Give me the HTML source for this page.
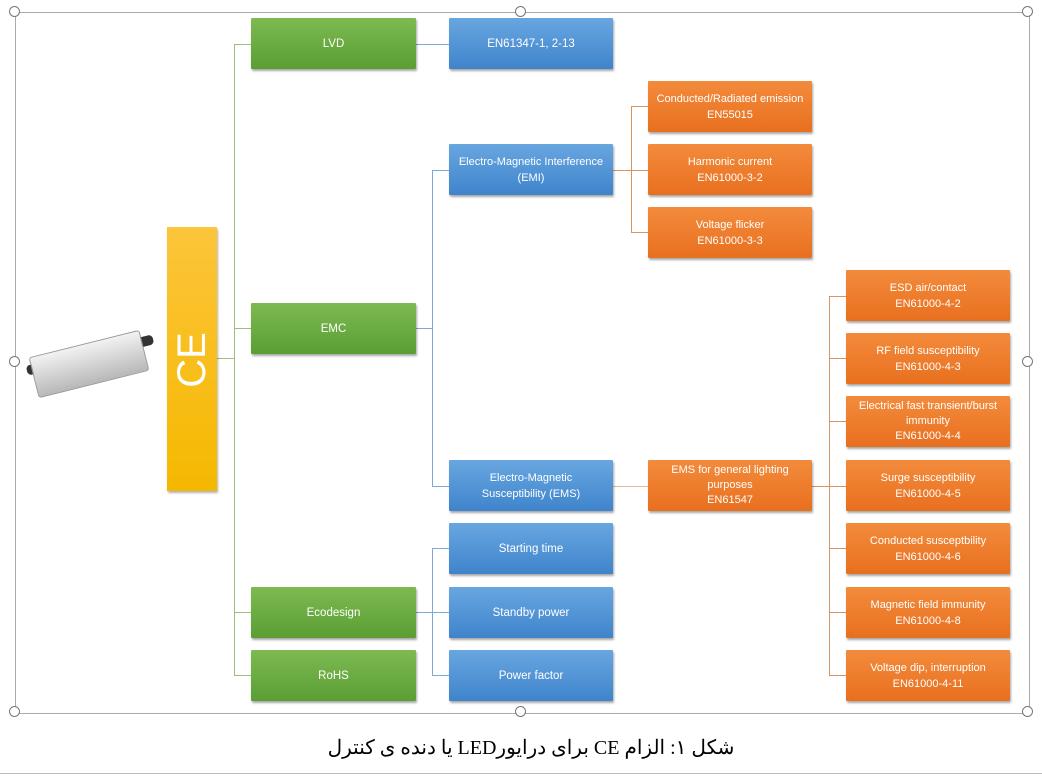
<!DOCTYPE html><html><head><meta charset="utf-8"><style>
body{margin:0;width:1042px;height:777px;background:#fff;position:relative;overflow:hidden;font-family:"Liberation Sans",sans-serif}
.b{position:absolute;color:#fff;font-size:11.5px;text-align:center;display:flex;flex-direction:column;justify-content:center;align-items:center;box-shadow:1px 2px 2px rgba(0,0,0,.35);line-height:16px;border-radius:1px}
.g{background:linear-gradient(#7dba52,#5a9e34);left:251px;width:165px;height:51px}
.u{background:linear-gradient(#68a6e0,#3f84cc);left:449px;width:164px;height:51px}
.o{background:linear-gradient(#f38b3c,#e8701f);width:164px;height:51px}
.l{position:absolute}
.h{position:absolute;width:9px;height:9px;border:1.5px solid #777;border-radius:50%;background:#fff}
</style></head><body>
<div class="l" style="left:15px;top:12px;width:1013px;height:700px;border:1px solid #aaa"></div>
<div class="l" style="left:234px;top:44px;width:1px;height:631px;background:#9bbf80"></div>
<div class="l" style="left:217px;top:358px;width:17px;height:1px;background:#9bbf80"></div>
<div class="l" style="left:234px;top:44px;width:17px;height:1px;background:#9bbf80"></div>
<div class="l" style="left:234px;top:328px;width:17px;height:1px;background:#9bbf80"></div>
<div class="l" style="left:234px;top:612px;width:17px;height:1px;background:#9bbf80"></div>
<div class="l" style="left:234px;top:675px;width:17px;height:1px;background:#9bbf80"></div>
<div class="l" style="left:416px;top:44px;width:33px;height:1px;background:#7fa8d8"></div>
<div class="l" style="left:432px;top:170px;width:1px;height:316px;background:#7fa8d8"></div>
<div class="l" style="left:416px;top:328px;width:16px;height:1px;background:#7fa8d8"></div>
<div class="l" style="left:432px;top:170px;width:17px;height:1px;background:#7fa8d8"></div>
<div class="l" style="left:432px;top:486px;width:17px;height:1px;background:#7fa8d8"></div>
<div class="l" style="left:432px;top:548px;width:1px;height:127px;background:#7fa8d8"></div>
<div class="l" style="left:416px;top:612px;width:33px;height:1px;background:#7fa8d8"></div>
<div class="l" style="left:432px;top:548px;width:17px;height:1px;background:#7fa8d8"></div>
<div class="l" style="left:432px;top:675px;width:17px;height:1px;background:#7fa8d8"></div>
<div class="l" style="left:613px;top:170px;width:35px;height:1px;background:#d9955f"></div>
<div class="l" style="left:631px;top:106px;width:1px;height:126px;background:#d9955f"></div>
<div class="l" style="left:631px;top:106px;width:17px;height:1px;background:#d9955f"></div>
<div class="l" style="left:631px;top:232px;width:17px;height:1px;background:#d9955f"></div>
<div class="l" style="left:613px;top:486px;width:35px;height:1px;background:#e8b898"></div>
<div class="l" style="left:812px;top:486px;width:34px;height:1px;background:#d9955f"></div>
<div class="l" style="left:829px;top:296px;width:1px;height:379px;background:#d9955f"></div>
<div class="l" style="left:829px;top:296px;width:17px;height:1px;background:#d9955f"></div>
<div class="l" style="left:829px;top:358px;width:17px;height:1px;background:#d9955f"></div>
<div class="l" style="left:829px;top:421px;width:17px;height:1px;background:#d9955f"></div>
<div class="l" style="left:829px;top:548px;width:17px;height:1px;background:#d9955f"></div>
<div class="l" style="left:829px;top:612px;width:17px;height:1px;background:#d9955f"></div>
<div class="l" style="left:829px;top:675px;width:17px;height:1px;background:#d9955f"></div>
<div class="l" style="left:25px;top:350px;width:130px;height:10px;background:#333;transform:rotate(-14deg);border-radius:4px"></div>
<div class="l" style="left:32px;top:343px;width:112px;height:40px;background:linear-gradient(#f2f2f2,#b8b8b8);transform:rotate(-14deg);border:1px solid #999;border-radius:3px"></div>
<div class="l" style="left:167px;top:227px;width:50px;height:264px;background:linear-gradient(#fcc53a,#f5b800);box-shadow:1px 2px 2px rgba(0,0,0,.3)"></div>
<div class="l" style="left:162px;top:335px;width:60px;height:50px;color:#fff;font-size:40px;display:flex;align-items:center;justify-content:center;transform:rotate(-90deg)">CE</div>
<div class="b g" style="top:18px">LVD</div>
<div class="b g" style="top:303px">EMC</div>
<div class="b g" style="top:587px">Ecodesign</div>
<div class="b g" style="top:650px">RoHS</div>
<div class="b u" style="top:18px">EN61347-1, 2-13</div>
<div class="b u" style="top:144px;font-size:11px">Electro-Magnetic Interference<br>(EMI)</div>
<div class="b u" style="top:460px;font-size:11px">Electro-Magnetic<br>Susceptibility (EMS)</div>
<div class="b u" style="top:523px">Starting time</div>
<div class="b u" style="top:587px">Standby power</div>
<div class="b u" style="top:650px">Power factor</div>
<div class="b o" style="left:648px;top:81px;font-size:11px">Conducted/Radiated emission<br>EN55015</div>
<div class="b o" style="left:648px;top:144px;font-size:11px">Harmonic current<br>EN61000-3-2</div>
<div class="b o" style="left:648px;top:207px;font-size:11px">Voltage flicker<br>EN61000-3-3</div>
<div class="b o" style="left:648px;top:460px;font-size:11px;line-height:15px">EMS for general lighting<br>purposes<br>EN61547</div>
<div class="b o" style="left:846px;top:270px;font-size:11px">ESD air/contact<br>EN61000-4-2</div>
<div class="b o" style="left:846px;top:333px;font-size:11px">RF field susceptibility<br>EN61000-4-3</div>
<div class="b o" style="left:846px;top:396px;font-size:11px;line-height:15px">Electrical fast transient/burst<br>immunity<br>EN61000-4-4</div>
<div class="b o" style="left:846px;top:460px;font-size:11px">Surge susceptibility<br>EN61000-4-5</div>
<div class="b o" style="left:846px;top:523px;font-size:11px">Conducted susceptbility<br>EN61000-4-6</div>
<div class="b o" style="left:846px;top:587px;font-size:11px">Magnetic field immunity<br>EN61000-4-8</div>
<div class="b o" style="left:846px;top:650px;font-size:11px">Voltage dip, interruption<br>EN61000-4-11</div>
<div class="h" style="left:9px;top:6px"></div><div class="h" style="left:515px;top:6px"></div><div class="h" style="left:1022px;top:6px"></div>
<div class="h" style="left:9px;top:356px"></div><div class="h" style="left:1022px;top:356px"></div>
<div class="h" style="left:9px;top:706px"></div><div class="h" style="left:515px;top:706px"></div><div class="h" style="left:1022px;top:706px"></div>
<div class="l" dir="rtl" style="left:0;width:1062px;top:735px;text-align:center;font-family:'Liberation Serif','Noto Serif CJK SC',serif;font-size:20px;color:#000">شکل ۱: الزام CE برای درایورLED یا دنده ی کنترل</div>
<div class="l" style="left:0;top:773px;width:1042px;height:1px;background:#bbb"></div>
</body></html>
